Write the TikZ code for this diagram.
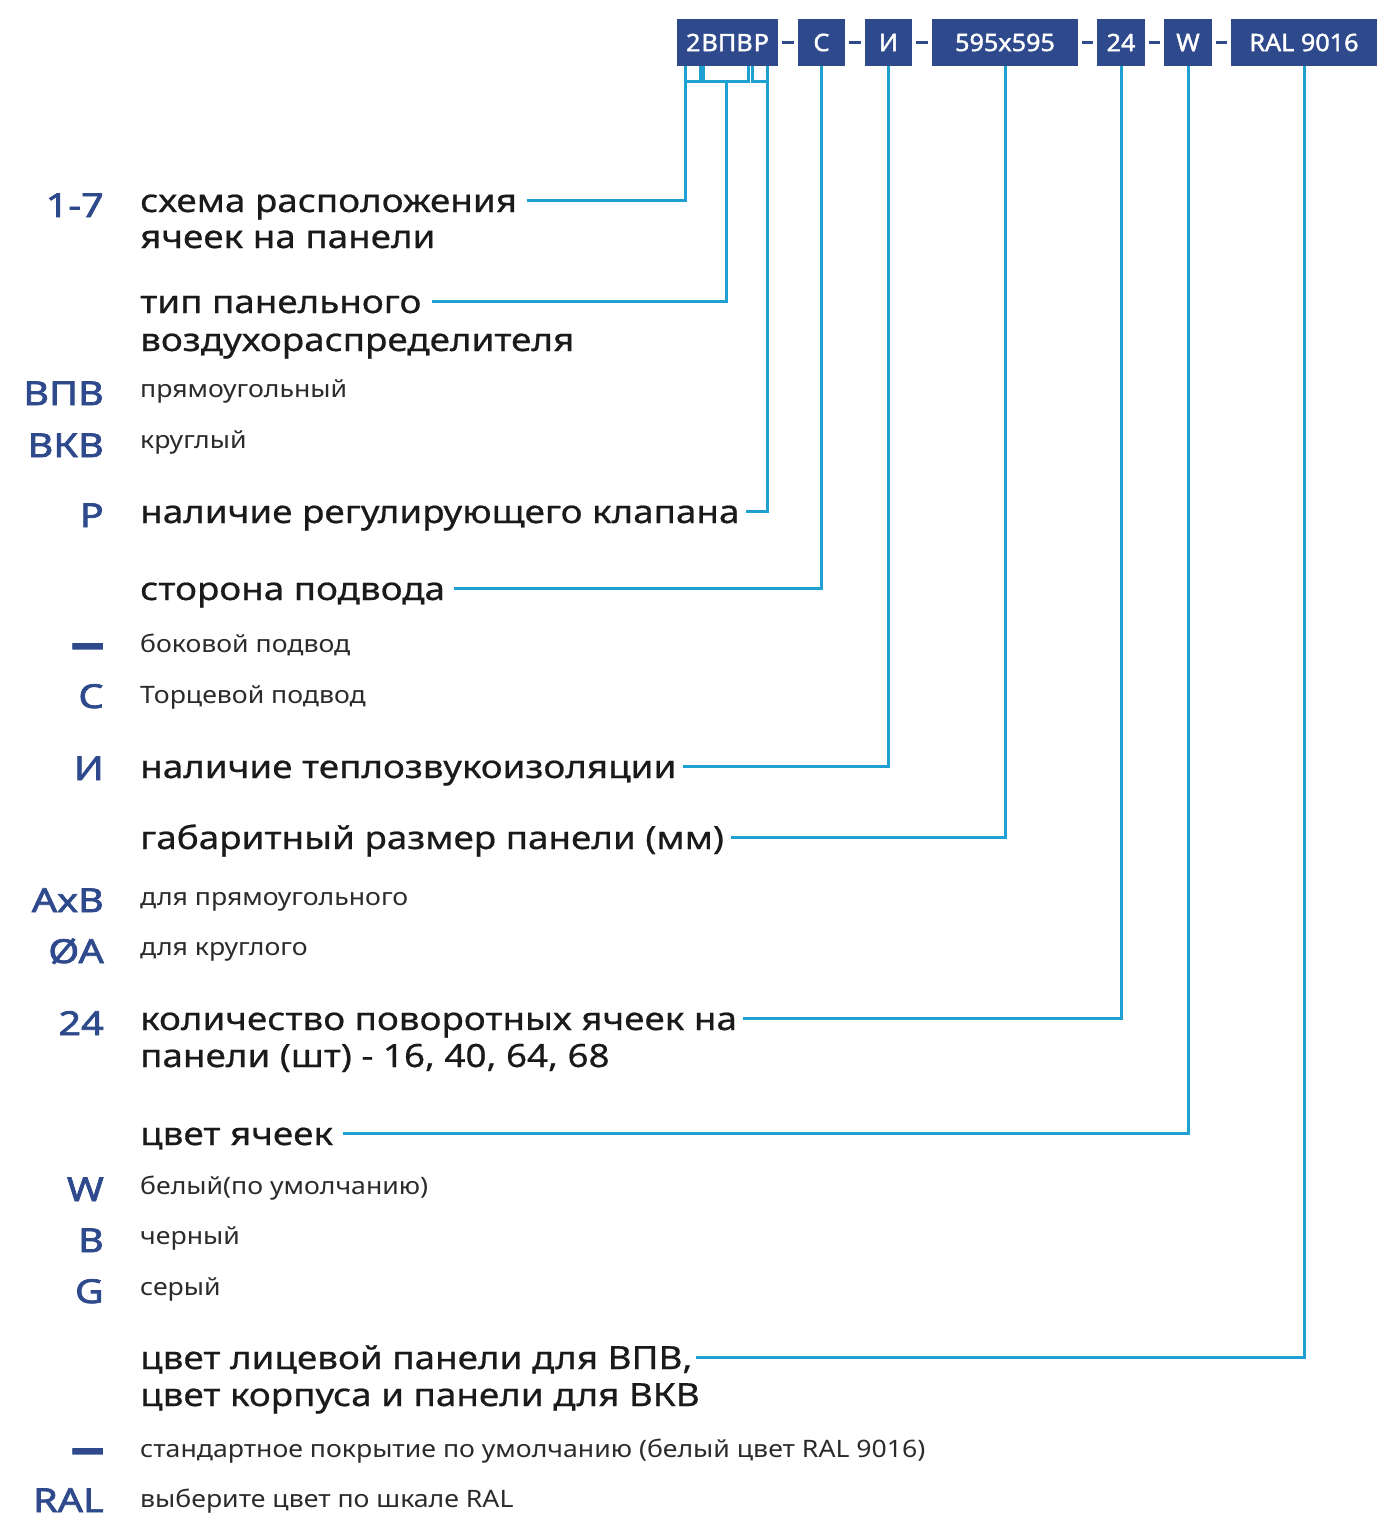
\documentclass[tikz,border=0pt]{standalone}
\usepackage{fontspec}
\setmainfont{Noto Sans}[FakeStretch=1.12]
\newfontfamily\labfont{Noto Sans}[FakeStretch=1.2, FakeBold=2.2]
\newfontfamily\boxfont{Noto Sans}[FakeStretch=1.05, FakeBold=1.6]
\newfontfamily\bigfont{Noto Sans}[FakeStretch=1.15, FakeBold=0.6]
\newfontfamily\smallfont{Noto Sans}[FakeStretch=1.11]
\usepackage{graphicx}
\definecolor{navy}{HTML}{2E4A8C}
\definecolor{cyanl}{HTML}{1FA0D2}
\definecolor{ink}{HTML}{1A1A1A}
\definecolor{inksmall}{HTML}{2B2B2B}
\begin{document}
\begin{tikzpicture}[x=1pt,y=-1pt,
  lab/.style={anchor=base east, inner sep=0pt, text=navy, font=\labfont\fontsize{33}{33}\selectfont},
  big/.style={anchor=base west, inner sep=0pt, text=ink, text height=24pt, text depth=0pt, font=\bigfont\fontsize{32}{36}\selectfont},
  small/.style={anchor=base west, inner sep=0pt, text=inksmall, font=\smallfont\fontsize{24}{30}\selectfont},
  codebox/.style={fill=navy, text=white, minimum height=47pt, inner sep=0pt, font=\boxfont\fontsize{24}{24}\selectfont},
  conn/.style={draw=cyanl, line width=3pt, line join=miter},
  sep/.style={draw=navy, line width=3pt},
  dashlab/.style={anchor=base east, inner sep=0pt, text=navy, font=\labfont\fontsize{30}{30}\selectfont}
]
\useasboundingbox (0,0) rectangle (1396,1536);
\fill[white] (0,0) rectangle (1396,1536);

% code boxes
\node[codebox, minimum width=101pt] (b1) at (727.5,42.5) {2\hspace{1pt}ВПВ\hspace{1pt}Р};
\node[codebox, minimum width=47pt] (b2) at (821.5,42.5) {С};
\node[codebox, minimum width=47pt] (b3) at (888.5,42.5) {И};
\node[codebox, minimum width=146pt] (b4) at (1005,42.5) {595x595};
\node[codebox, minimum width=48pt] (b5) at (1121,42.5) {24};
\node[codebox, minimum width=48pt] (b6) at (1188,42.5) {W};
\node[codebox, minimum width=146pt] (b7) at (1304,42.5) {RAL 9016};

\foreach \a/\b in {b1/b2,b2/b3,b3/b4,b4/b5,b5/b6,b6/b7}{
  \draw[sep] ([xshift=4pt]\a.east) -- ([xshift=-4pt]\b.west);
}

% brackets under 2BPBP
\draw[conn] (685.5,66) |- (700.5,82) -- (700.5,66);
\draw[conn] (703.5,66) |- (748.5,82) -- (748.5,66);
\draw[conn] (752.5,66) |- (767,82) -- (767,66);
\coordinate (k1) at (685.5,82);
\coordinate (k2) at (726,82);
\coordinate (k3) at (767,82);

% left labels
\node[lab] (l17) at (104,217) {1-7};
\node[lab] (lvpv) at (104,405) {ВПВ};
\node[lab] (lvkv) at (104,457) {ВКВ};
\node[lab] (lr) at (104,527) {Р};
\node[dashlab] (ld1) at (104,664) {\scalebox{0.9}[2.2]{—}};
\node[lab] (lc) at (104,708) {С};
\node[lab] (li) at (104,780) {И};
\node[lab] (laxb) at (104,912) {AxB};
\node[lab] (loa) at (104,963) {ØA};
\node[lab] (l24) at (104,1035) {24};
\node[lab] (lw) at (104,1201) {W};
\node[lab] (lb) at (104,1252) {B};
\node[lab] (lg) at (104,1303) {G};
\node[dashlab] (ld2) at (104,1469) {\scalebox{0.9}[2.2]{—}};
\node[lab] (lral) at (104,1512) {RAL};

% descriptions
\node[big] (t1) at (140,212) {схема расположения};
\node[big] (t1b) at (140,248) {ячеек на панели};
\node[big] (t2) at (140,313) {тип панельного};
\node[big] (t2b) at (140,351) {воздухораспределителя};
\node[small] (s1) at (140,397) {прямоугольный};
\node[small] (s2) at (140,448) {круглый};
\node[big] (t3) at (140,523) {наличие регулирующего клапана};
\node[big] (t4) at (140,600) {сторона подвода};
\node[small] (s3) at (140,652) {боковой подвод};
\node[small] (s4) at (140,703) {Торцевой подвод};
\node[big] (t5) at (140,778) {наличие теплозвукоизоляции};
\node[big] (t6) at (140,849) {габаритный размер панели (мм)};
\node[small] (s5) at (140,905) {для прямоугольного};
\node[small] (s6) at (140,955) {для круглого};
\node[big] (t7) at (140,1030) {количество поворотных ячеек на};
\node[big] (t7b) at (140,1067) {панели (шт) - 16, 40, 64, 68};
\node[big] (t8) at (140,1145) {цвет ячеек};
\node[small] (s7) at (140,1194) {белый(по умолчанию)};
\node[small] (s8) at (140,1244) {черный};
\node[small] (s9) at (140,1295) {серый};
\node[big] (t9) at (140,1369) {цвет лицевой панели для ВПВ,};
\node[big] (t9b) at (140,1406) {цвет корпуса и панели для ВКВ};
\node[small] (s10) at (140,1457) {стандартное покрытие по умолчанию (белый цвет RAL 9016)};
\node[small] (s11) at (140,1507) {выберите цвет по шкале RAL};

% connectors
\draw[conn] (k1) |- ([xshift=10pt]t1.east);
\draw[conn] (k2) |- ([xshift=10pt]t2.east);
\draw[conn] (k3) |- ([xshift=6pt]t3.east);
\draw[conn] (b2.south) |- ([xshift=9pt]t4.east);
\draw[conn] (b3.south) |- ([xshift=6pt]t5.east);
\draw[conn] (b4.south) |- ([xshift=7pt]t6.east);
\draw[conn] (b5.south) |- ([xshift=6pt]t7.east);
\draw[conn] (b6.south) |- ([xshift=10pt]t8.east);
\draw[conn] (b7.south) |- ([xshift=3pt]t9.east);
\end{tikzpicture}
\end{document}
